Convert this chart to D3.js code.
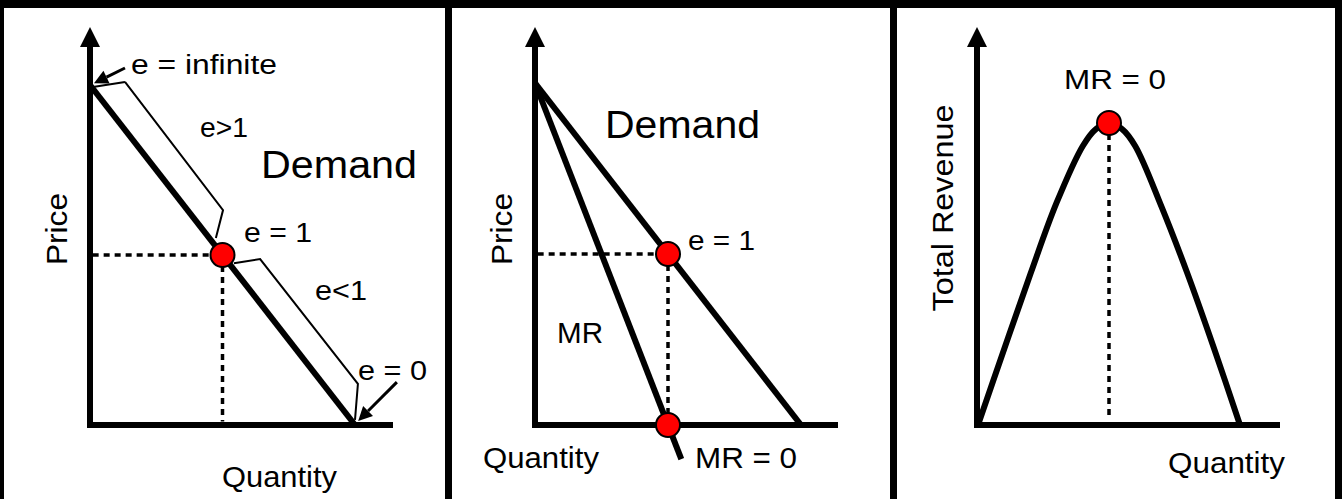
<!DOCTYPE html>
<html>
<head>
    <script src="https://d3js.org/d3.v7.min.js"></script>
    <style>
        body { margin: 0; background: #fff; }
        text { font-family: "Liberation Sans", Arial, sans-serif; fill: #000; }
        .axis { stroke: #000; stroke-width: 6; fill: none; }
        .thick { stroke: #000; stroke-width: 6; fill: none; }
        .thin { stroke: #000; stroke-width: 2; fill: none; stroke-linejoin: miter; }
        .guide { stroke: #000; stroke-width: 3.5; stroke-dasharray: 6,5; fill: none; }
        .dot { fill: #ff0000; stroke: #000; stroke-width: 2; }
    </style>
</head>
<body>
    <svg width="1342" height="499"></svg>
    <script>
        // linear demand, price 10 at Q=0, Q=10 at price 0
        const demandQ = [0, 10];
        const demandP = [10, 0];
        // unit elastic point
        const unitQ = 5;
        const unitP = 5;
        // marginal revenue, twice as steep, runs a bit below the axis
        const mrQ = [0, 5.5];
        const mrP = [10, -1];
        // total revenue
        const trQ = [0, 1, 2, 3, 4, 4.5, 5, 5.5, 6, 7, 8, 9, 10];
        const trV = [0, 6.3, 12.5, 18.4, 23.1, 24.5, 25, 24.5, 23.1, 18.1, 12.5, 6.4, 0];
        // elasticity brackets drawn beside the demand line (Q, P)
        const upperBracket = [[1.32, 10.09], [5.02, 6.32], [4.75, 5.5]];
        const upperCap = [[0.11, 9.94], [1.32, 10.09]];
        const lowerBracket = [[5.43, 4.76], [6.42, 4.88], [10.11, 1.21], [10.0, 0.15]];

        const labels1 = ['e = infinite', 'e>1', 'Demand', 'e = 1', 'e<1', 'e = 0', 'Quantity', 'Price'];
        const labels2 = ['Demand', 'e = 1', 'MR', 'Quantity', 'MR = 0', 'Price'];
        const labels3 = ['MR = 0', 'Quantity', 'Total Revenue'];

        const svg = d3.select('svg');
        const base = 425, arrowTip = 27;

        function axes(g, x0, xEnd) {
            g.append('path').attr('class', 'axis')
                .attr('d', `M${x0},${arrowTip + 18}V${base}`);
            g.append('path').attr('class', 'axis')
                .attr('d', `M${x0 - 3},${base}H${xEnd}`);
            g.append('path').attr('fill', '#000')
                .attr('d', `M${x0},${arrowTip}L${x0 + 10},${arrowTip + 20}L${x0 - 10},${arrowTip + 20}Z`);
        }

        function label(g, txt, x, y, size, len, rotate) {
            const t = g.append('text')
                .attr('font-size', size)
                .attr('textLength', len)
                .attr('lengthAdjust', 'spacingAndGlyphs')
                .text(txt);
            if (rotate) {
                t.attr('transform', `translate(${x},${y}) rotate(-90)`).attr('text-anchor', 'middle');
            } else {
                t.attr('x', x).attr('y', y);
            }
        }

        function arrow(g, x1, y1, x2, y2) {
            const a = Math.atan2(y2 - y1, x2 - x1), L = 14, W = 7;
            const bx = x2 - L * Math.cos(a), by = y2 - L * Math.sin(a);
            g.append('line').attr('x1', x1).attr('y1', y1).attr('x2', bx).attr('y2', by)
                .attr('stroke', '#000').attr('stroke-width', 3);
            g.append('path').attr('fill', '#000')
                .attr('d', `M${x2},${y2}L${bx - W * Math.sin(a)},${by + W * Math.cos(a)}L${bx + W * Math.sin(a)},${by - W * Math.cos(a)}Z`);
        }

        const pts = (qs, ps) => qs.map((q, i) => [q, ps[i]]);

        // ---------- panel 1: elasticity along demand ----------
        const x1 = d3.scaleLinear().domain([0, 10]).range([90, 355]);
        const y1 = d3.scaleLinear().domain([0, 10]).range([base, 85]);
        const l1 = d3.line().x(d => x1(d[0])).y(d => y1(d[1]));
        const g1 = svg.append('g');
        axes(g1, 90, 393);

        g1.append('path').attr('class', 'guide').attr('d', l1([[0.1, unitP], [unitQ, unitP]]));
        g1.append('path').attr('class', 'guide').attr('d', l1([[unitQ, unitP], [unitQ, 0.1]]));
        g1.append('path').attr('class', 'thick').attr('d', l1(pts(demandQ, demandP)));
        g1.append('path').attr('class', 'thin').attr('d', l1(upperBracket));
        g1.append('path').attr('class', 'thin').attr('stroke-width', 3.5).attr('d', l1(upperCap));
        g1.append('path').attr('class', 'thin').attr('d', l1(lowerBracket));
        g1.append('circle').attr('class', 'dot').attr('cx', x1(unitQ)).attr('cy', y1(unitP)).attr('r', 12);

        arrow(g1, x1(1.32), y1(10.5), x1(0.15), y1(10.05));
        arrow(g1, x1(11.58), y1(1.26), x1(10.12), y1(0.12));

        label(g1, labels1[0], 131, 74, 27, 146);
        label(g1, labels1[1], 200, 137, 27, 48);
        label(g1, labels1[2], 261, 178, 38, 156);
        label(g1, labels1[3], 244, 242, 27, 68);
        label(g1, labels1[4], 315, 300, 27, 52);
        label(g1, labels1[5], 358, 380, 27, 69);
        label(g1, labels1[6], 222, 487, 29, 115);
        label(g1, labels1[7], 67, 229, 30, 72, true);

        // ---------- panel 2: demand and marginal revenue ----------
        const x2 = d3.scaleLinear().domain([0, 10]).range([535, 801]);
        const y2 = d3.scaleLinear().domain([0, 10]).range([base, 83]);
        const l2 = d3.line().x(d => x2(d[0])).y(d => y2(d[1]));
        const g2 = svg.append('g');
        axes(g2, 535, 838);

        g2.append('path').attr('class', 'guide').attr('d', l2([[0.1, unitP], [unitQ, unitP]]));
        g2.append('path').attr('class', 'guide').attr('d', l2([[unitQ, unitP], [unitQ, 0.1]]));
        g2.append('path').attr('class', 'thick').attr('d', l2(pts(demandQ, demandP)));
        g2.append('path').attr('class', 'thick').attr('d', l2(pts(mrQ, mrP)));
        g2.selectAll('.dot').data([[unitQ, unitP], [unitQ, 0]]).enter()
            .append('circle').attr('class', 'dot')
            .attr('cx', d => x2(d[0])).attr('cy', d => y2(d[1])).attr('r', 12);

        label(g2, labels2[0], 605, 138, 38, 155);
        label(g2, labels2[1], 688, 250, 27, 67);
        label(g2, labels2[2], 557, 343, 29, 46);
        label(g2, labels2[3], 483, 468, 29, 116);
        label(g2, labels2[4], 695, 468, 29, 102);
        label(g2, labels2[5], 512, 229, 30, 72, true);

        // ---------- panel 3: total revenue ----------
        const x3 = d3.scaleLinear().domain([0, 10]).range([978, 1240]);
        const y3 = d3.scaleLinear().domain([0, 25]).range([base, 123]);
        const g3 = svg.append('g');
        axes(g3, 977, 1280);

        const peak = d3.greatestIndex(trV);
        g3.append('path').attr('class', 'guide')
            .attr('d', `M${x3(trQ[peak])},${y3(trV[peak])}V${y3(0.6)}`);
        g3.append('path').attr('class', 'thick').attr('stroke-linejoin', 'round')
            .attr('d', d3.line().curve(d3.curveCatmullRom)
                .x((d, i) => x3(trQ[i])).y(d => y3(d))(trV));
        g3.append('circle').attr('class', 'dot')
            .attr('cx', x3(trQ[peak])).attr('cy', y3(trV[peak])).attr('r', 12);

        label(g3, labels3[0], 1064, 89, 27, 102);
        label(g3, labels3[1], 1168, 473, 29, 117);
        label(g3, labels3[2], 953, 208, 30, 207, true);

        // ---------- frame ----------
        const frame = [[0, 0, 1342, 8], [0, 0, 4, 499], [445, 0, 7, 499], [890, 0, 7, 499], [1335, 0, 7, 499]];
        svg.selectAll('.frame').data(frame).enter().append('rect')
            .attr('x', d => d[0]).attr('y', d => d[1])
            .attr('width', d => d[2]).attr('height', d => d[3])
            .attr('fill', '#000');
    </script>
</body>
</html>
